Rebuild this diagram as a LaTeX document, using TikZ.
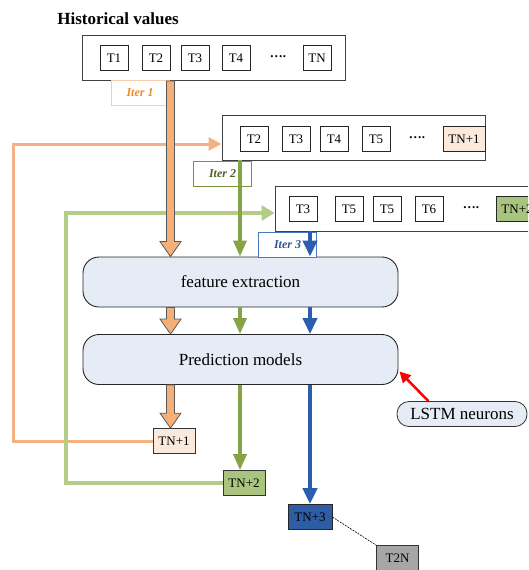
\documentclass[tikz,border=0pt]{standalone}
\usepackage{fontspec}
\setmainfont{Liberation Serif}
\usepackage{tikz}
\usetikzlibrary{calc,arrows.meta,positioning}

\definecolor{lineorange}{HTML}{F4B183}
\definecolor{blockorange}{HTML}{F5B07A}
\definecolor{peach}{HTML}{FBE9DB}
\definecolor{iterorange}{HTML}{F08A24}
\definecolor{iterorangeline}{HTML}{F8CBAD}
\definecolor{linegreen}{HTML}{B3CC86}
\definecolor{arrowgreen}{HTML}{86A345}
\definecolor{boxgreen}{HTML}{A9C47F}
\definecolor{itergreen}{HTML}{4F6228}
\definecolor{itergreenline}{HTML}{77933C}
\definecolor{arrowblue}{HTML}{2B5FAE}
\definecolor{boxblue}{HTML}{2F5DA5}
\definecolor{iterblue}{HTML}{2F5597}
\definecolor{iterblueline}{HTML}{4A78BE}
\definecolor{stageblue}{HTML}{E5ECF6}

\begin{document}
\begin{tikzpicture}[x=1pt,y=-1pt]

\tikzset{
  window/.style={draw=black!75, line width=0.9pt, minimum width=263pt,
                 minimum height=45pt, inner sep=0pt},
  valbox/.style={draw=black!85, line width=0.7pt, fill=white, inner sep=0pt,
                 minimum width=28pt, minimum height=25pt,
                 font=\fontsize{13}{15}\selectfont},
  dotsnode/.style={font=\fontsize{13}{15}\selectfont\bfseries},
  stage/.style={draw=black!85, line width=0.9pt, fill=stageblue,
                rounded corners=16pt, minimum width=315pt, minimum height=50pt,
                font=\fontsize{17}{20}\selectfont},
  iterlabel/.style={line width=0.8pt, fill=white, minimum width=58pt,
                    minimum height=25pt, inner sep=0pt,
                    font=\fontsize{12}{14}\selectfont\bfseries\itshape},
  outbox/.style={draw=black!80, line width=0.7pt, inner sep=0pt,
                 minimum width=42pt, minimum height=25pt,
                 font=\fontsize{13}{15}\selectfont},
  blockarr/.style={fill=blockorange, draw=black!65, line width=0.8pt},
  feedorange/.style={lineorange, line width=3pt,
                     -{Triangle[length=13pt, width=13pt]}},
  feedgreen/.style={linegreen, line width=3.5pt,
                    -{Triangle[length=13pt, width=15pt]}},
  flowgreen/.style={arrowgreen, line width=3.5pt,
                    -{Triangle[length=16pt, width=13pt]}},
  flowblue/.style={arrowblue, line width=4.5pt,
                   -{Triangle[length=16pt, width=14pt]}},
  pointer/.style={red, line width=2.5pt, -{Triangle[length=11pt, width=11pt]}}
}

\newcommand{\blockarrow}[2]{
  \filldraw[blockarr] let \p1=(#1), \p2=(#2) in
    (\x1-4pt,\y1) -- (\x1-4pt,\y2+15pt) -- (\x1-10.5pt,\y2+15pt) -- (\x1,\y2)
    -- (\x1+10.5pt,\y2+15pt) -- (\x1+4pt,\y2+15pt) -- (\x1+4pt,\y1) -- cycle;
}

\useasboundingbox (0,0) rectangle (528,570);
\clip (0,0) rectangle (528,570);

% Title
\node[font=\fontsize{17}{20}\selectfont\bfseries] (title) at (118,19) {Historical values};

% Windows of historical values
\node[window] (win1) at (214,58) {};
\node[valbox] (w1a) at (114,58) {T1};
\node[valbox] (w1b) at (156,58) {T2};
\node[valbox] (w1c) at (195,58) {T3};
\node[valbox] (w1d) at (236,58) {T4};
\node[dotsnode] (w1e) at (278,57) {….};
\node[valbox] (w1f) at (317,58) {TN};

\node[window] (win2) at (353.5,137.5) {};
\node[valbox] (w2a) at (254,139) {T2};
\node[valbox] (w2b) at (296,139) {T3};
\node[valbox] (w2c) at (334,139) {T4};
\node[valbox] (w2d) at (376,139) {T5};
\node[dotsnode] (w2e) at (417,138) {….};
\node[valbox, fill=peach, minimum width=42pt] (w2f) at (464,139) {TN+1};

\node[window] (win3) at (406.5,208.5) {};
\node[valbox] (w3a) at (303,209) {T3};
\node[valbox] (w3b) at (349,209) {T5};
\node[valbox] (w3c) at (387,209) {T5};
\node[valbox] (w3d) at (429,209) {T6};
\node[dotsnode] (w3e) at (471,208) {….};
\node[valbox, fill=boxgreen, minimum width=42pt] (w3f) at (517,209) {TN+2};

% Stages
\node[stage] (fe) at (240.5,282) {feature extraction};
\node[stage] (pred) at (240.5,359.5) {Prediction models};
\node[draw=black!80, line width=0.8pt, fill=stageblue, rounded corners=12pt,
      minimum width=130pt, minimum height=25pt, inner sep=0pt,
      font=\fontsize{17}{20}\selectfont] (lstm) at (462,414) {LSTM neurons};

% Outputs
\node[outbox, fill=peach] (tn1) at (174,441) {TN+1};
\node[outbox, fill=boxgreen] (tn2) at (244,483) {TN+2};
\node[outbox, fill=boxblue, draw=black!85, minimum width=44pt] (tn3) at (310,517) {TN+3};
\node[outbox, fill=black!35] (t2n) at (397.5,558) {T2N};

% Feedback lines
\coordinate (backA) at (13,144);
\coordinate (backB) at (66,213);
\draw[feedorange] (tn1.west) -| (backA) -- (backA -| win2.west);
\draw[feedgreen] (tn2.west) -| (backB) -- (backB -| win3.west);

% Iteration labels
\node[iterlabel, draw=iterorangeline, text=iterorange] (it1) at (140,92.5) {Iter 1};
\node[iterlabel, draw=itergreenline, text=itergreen] (it2) at (222.5,173.5) {Iter 2};
\node[iterlabel, draw=iterblueline, text=iterblue] (it3) at (287.5,244.5) {Iter 3};

% Columns
\coordinate (colA) at (170.5,0);
\coordinate (colB) at (240,0);
\coordinate (colC) at (310,0);

\blockarrow{colA |- win1.south}{colA |- fe.north}
\blockarrow{colA |- fe.south}{colA |- pred.north}
\blockarrow{colA |- pred.south}{colA |- tn1.north}

\draw[flowgreen] (colB |- win2.south) -- (colB |- fe.north);
\draw[flowgreen] (colB |- fe.south) -- (colB |- pred.north);
\draw[flowgreen] (colB |- pred.south) -- (colB |- tn2.north);

\draw[flowblue] (colC |- win3.south) -- (colC |- fe.north);
\draw[flowblue] (colC |- fe.south) -- (colC |- pred.north);
\draw[flowblue] (colC |- pred.south) -- (colC |- tn3.north);

% LSTM pointer and last output
\draw[pointer] (lstm.159) -- ($(pred.east)+(1,12)$);
\draw[black, line width=0.6pt, dash pattern=on 2pt off 1pt] (tn3.east) -- (t2n.north west);

\end{tikzpicture}
\end{document}
